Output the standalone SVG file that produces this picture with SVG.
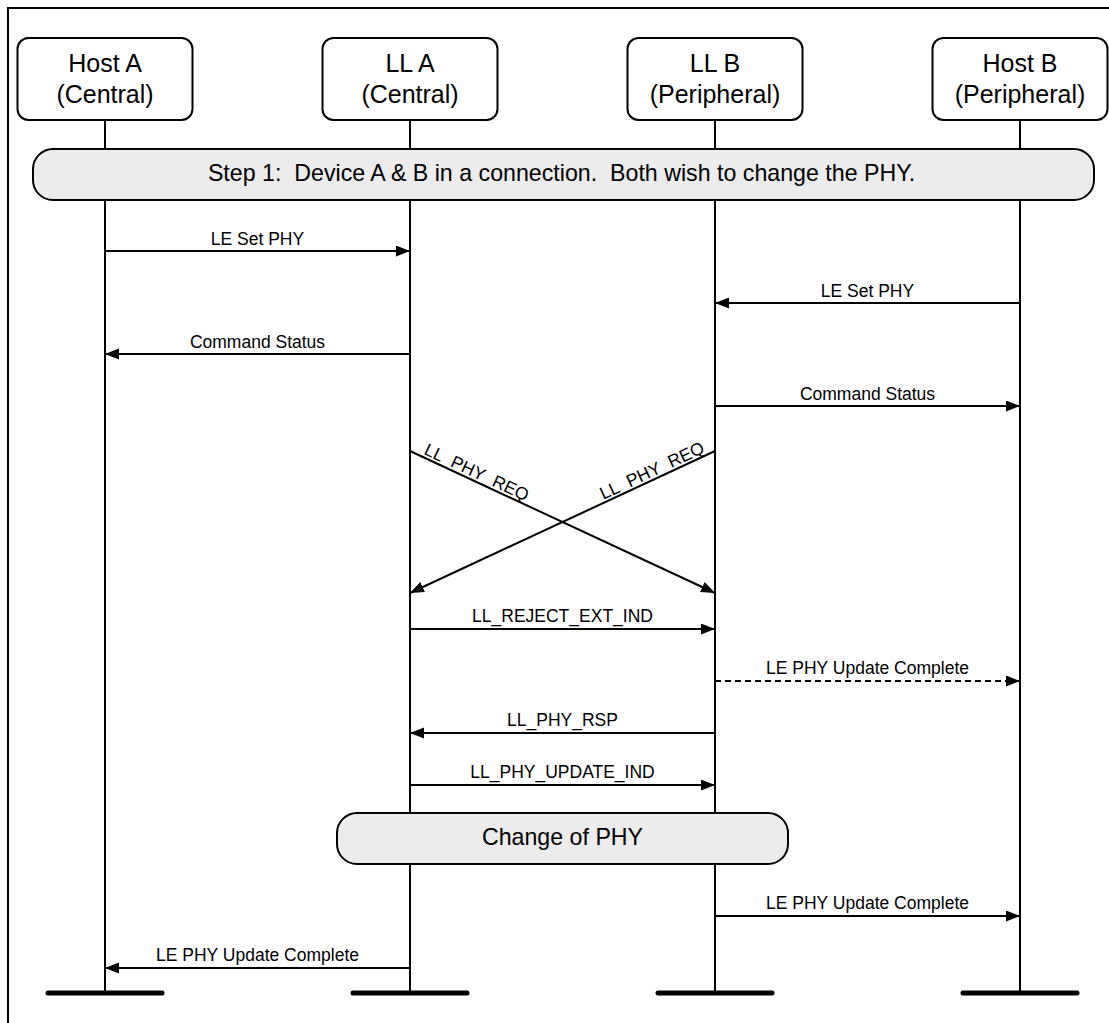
<svg xmlns="http://www.w3.org/2000/svg" width="1109" height="1023" viewBox="0 0 1109 1023">
<defs>
<marker id="ah" markerUnits="userSpaceOnUse" markerWidth="15" markerHeight="12" refX="14" refY="5.5" orient="auto">
<path d="M0,0 L14,5.5 L0,11 Z" fill="#000"/>
</marker>
<style>
.hdr{font-family:"Liberation Sans",Arial,sans-serif;font-size:25px;fill:#000;text-anchor:middle}
.bar{font-family:"Liberation Sans",Arial,sans-serif;font-size:23.2px;fill:#000;text-anchor:middle}
.lbl{font-family:"Liberation Sans",Arial,sans-serif;font-size:17.5px;fill:#000;text-anchor:middle}
.box{fill:#fff;stroke:#000;stroke-width:2}
.band{fill:#ececec;stroke:#000;stroke-width:2}
.life{stroke:#000;stroke-width:2;fill:none}
.end{stroke:#000;stroke-width:5;stroke-linecap:round}
.msg{stroke:#000;stroke-width:2;fill:none;marker-end:url(#ah)}
.dash{stroke-dasharray:6 4}
</style>
</defs>
<rect width="1109" height="1023" fill="#fff"/>
<path d="M8,1023 V8 H1109" fill="none" stroke="#000" stroke-width="2"/>

<g id="lifelines">
<line class="life" x1="105" y1="120" x2="105" y2="993"/>
<line class="life" x1="410" y1="120" x2="410" y2="993"/>
<line class="life" x1="715" y1="120" x2="715" y2="993"/>
<line class="life" x1="1020" y1="120" x2="1020" y2="993"/>
<line class="end" x1="48" y1="993" x2="162" y2="993"/>
<line class="end" x1="353" y1="993" x2="467" y2="993"/>
<line class="end" x1="658" y1="993" x2="772" y2="993"/>
<line class="end" x1="963" y1="993" x2="1077" y2="993"/>
</g>

<g id="hostA">
<rect class="box" x="17.5" y="38" width="175" height="82" rx="11"/>
<text class="hdr" x="105" y="72">Host A</text>
<text class="hdr" x="105" y="103">(Central)</text>
</g>
<g id="llA">
<rect class="box" x="322.5" y="38" width="175" height="82" rx="11"/>
<text class="hdr" x="410" y="72">LL A</text>
<text class="hdr" x="410" y="103">(Central)</text>
</g>
<g id="llB">
<rect class="box" x="627.5" y="38" width="175" height="82" rx="11"/>
<text class="hdr" x="715" y="72">LL B</text>
<text class="hdr" x="715" y="103">(Peripheral)</text>
</g>
<g id="hostB">
<rect class="box" x="932.5" y="38" width="175" height="82" rx="11"/>
<text class="hdr" x="1020" y="72">Host B</text>
<text class="hdr" x="1020" y="103">(Peripheral)</text>
</g>

<g id="step1">
<rect class="band" x="33" y="149" width="1061" height="51" rx="20"/>
<text class="bar" x="561.5" y="181" xml:space="preserve">Step 1:  Device A &amp; B in a connection.  Both wish to change the PHY.</text>
</g>

<g id="changePHY">
<rect class="band" x="337" y="813" width="451" height="51" rx="20"/>
<text class="bar" x="562.5" y="845">Change of PHY</text>
</g>

<g id="connectors">
<line class="msg" x1="105" y1="251" x2="410" y2="251"/>
<text class="lbl" x="257.5" y="245">LE Set PHY</text>
<line class="msg" x1="1020" y1="303" x2="715" y2="303"/>
<text class="lbl" x="867.5" y="297">LE Set PHY</text>
<line class="msg" x1="410" y1="354" x2="105" y2="354"/>
<text class="lbl" x="257.5" y="348">Command Status</text>
<line class="msg" x1="715" y1="406" x2="1020" y2="406"/>
<text class="lbl" x="867.5" y="400">Command Status</text>

<line class="msg" x1="410" y1="451" x2="715" y2="593"/>
<text class="lbl" style="text-anchor:start" transform="translate(410,451) rotate(25)" x="13" y="-3">LL_PHY_REQ</text>
<line class="msg" x1="715" y1="451" x2="410" y2="593"/>
<text class="lbl" style="text-anchor:end" transform="translate(715,451) rotate(-25)" x="-9" y="-3">LL_PHY_REQ</text>

<line class="msg" x1="410" y1="629" x2="715" y2="629"/>
<text class="lbl" x="562.5" y="622">LL_REJECT_EXT_IND</text>
<line class="msg dash" x1="715" y1="681" x2="1020" y2="681"/>
<text class="lbl" x="867.5" y="674">LE PHY Update Complete</text>
<line class="msg" x1="715" y1="733" x2="410" y2="733"/>
<text class="lbl" x="562.5" y="726">LL_PHY_RSP</text>
<line class="msg" x1="410" y1="785" x2="715" y2="785"/>
<text class="lbl" x="562.5" y="778">LL_PHY_UPDATE_IND</text>
<line class="msg" x1="715" y1="916" x2="1020" y2="916"/>
<text class="lbl" x="867.5" y="909">LE PHY Update Complete</text>
<line class="msg" x1="410" y1="968" x2="105" y2="968"/>
<text class="lbl" x="257.5" y="961">LE PHY Update Complete</text>
</g>
</svg>
